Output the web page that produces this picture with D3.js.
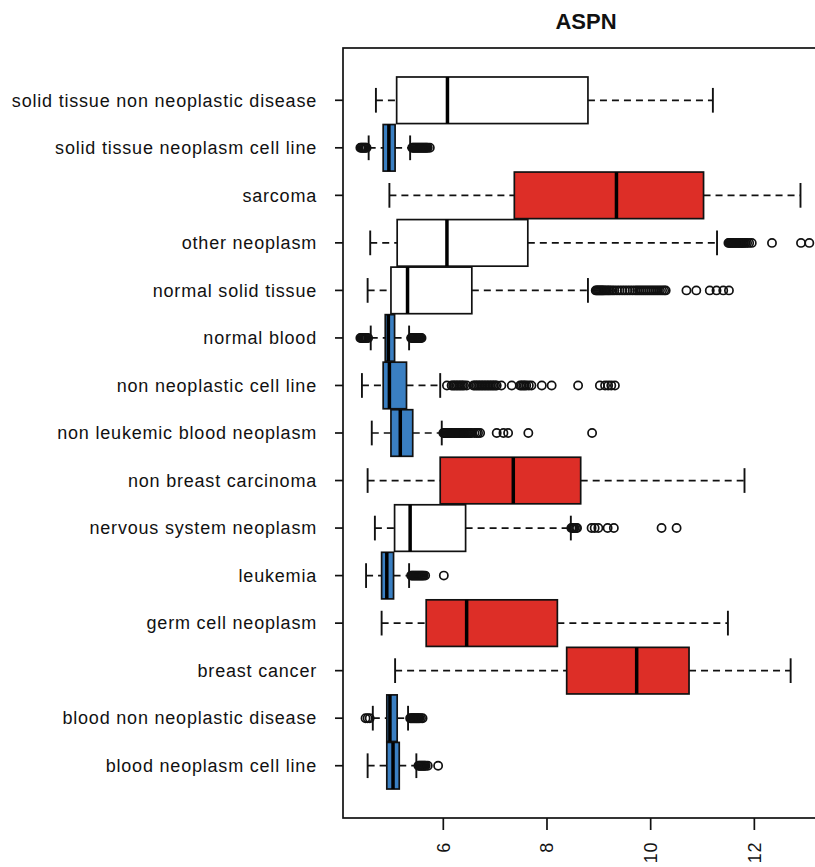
<!DOCTYPE html>
<html>
<head>
<meta charset="utf-8">
<script src="https://cdn.jsdelivr.net/npm/d3@7"></script>
<style>
  body { margin: 0; background: #fff; }
  svg { display: block; }
  text { font-family: "Liberation Sans", Arial, sans-serif; fill: #111; }
</style>
</head>
<body>
<svg id="chart" width="815" height="867"></svg>
<script>
// categories, bottom to top (R boxplot order)
const categories = [
  "blood neoplasm cell line",
  "blood non neoplastic disease",
  "breast cancer",
  "germ cell neoplasm",
  "leukemia",
  "nervous system neoplasm",
  "non breast carcinoma",
  "non leukemic blood neoplasm",
  "non neoplastic cell line",
  "normal blood",
  "normal solid tissue",
  "other neoplasm",
  "sarcoma",
  "solid tissue neoplasm cell line",
  "solid tissue non neoplastic disease"
];

// expression level group: high = red, low = blue, mid = white
const groups = ["low", "low", "high", "high", "low", "mid", "high", "low", "low", "low", "mid", "mid", "high", "low", "mid"];

const lowWhisker = [4.54, 4.64, 5.07, 4.81, 4.51, 4.68, 4.54, 4.62, 4.43, 4.60, 4.54, 4.59, 4.96, 4.56, 4.70];
const q1 =         [4.91, 4.91, 8.38, 5.67, 4.81, 5.06, 5.94, 4.99, 4.84, 4.88, 4.99, 5.11, 7.37, 4.84, 5.10];
const medians =    [5.03, 4.97, 9.73, 6.45, 4.91, 5.36, 7.35, 5.17, 4.96, 4.94, 5.31, 6.07, 9.34, 4.95, 6.08];
const q3 =         [5.15, 5.11, 10.74, 8.20, 5.04, 6.43, 8.65, 5.41, 5.29, 5.06, 6.55, 7.63, 11.02, 5.07, 8.79];
const highWhisker = [5.48, 5.32, 12.70, 11.49, 5.34, 8.46, 11.81, 5.97, 5.94, 5.34, 8.79, 11.28, 12.89, 5.36, 11.20];

const outliers = [
  [5.52, 5.54, 5.56, 5.58, 5.60, 5.62, 5.64, 5.66, 5.70, 5.90],
  [4.50, 4.54, 4.58, 5.36, 5.38, 5.40, 5.42, 5.44, 5.46, 5.48, 5.50, 5.52, 5.54, 5.57, 5.60],
  [],
  [],
  [5.38, 5.40, 5.42, 5.44, 5.46, 5.48, 5.50, 5.52, 5.54, 5.56, 5.58, 5.60, 5.62, 5.65, 6.01],
  [8.47, 8.49, 8.51, 8.53, 8.56, 8.58, 8.86, 8.92, 8.99, 9.17, 9.29, 10.21, 10.50],
  [],
  [6.00, 6.02, 6.04, 6.06, 6.08, 6.10, 6.12, 6.14, 6.16, 6.18, 6.20, 6.22, 6.24, 6.26, 6.28,
   6.30, 6.32, 6.34, 6.36, 6.38, 6.40, 6.42, 6.44, 6.46, 6.48, 6.50, 6.52, 6.55, 6.60, 6.64,
   6.67, 6.71, 7.03, 7.16, 7.25, 7.64, 8.87],
  [6.07, 6.16, 6.19, 6.22, 6.25, 6.28, 6.31, 6.34, 6.37, 6.40, 6.45, 6.58, 6.61, 6.64, 6.67,
   6.70, 6.73, 6.76, 6.79, 6.82, 6.85, 6.88, 6.91, 6.94, 6.97, 7.00, 7.03, 7.12, 7.32, 7.48,
   7.51, 7.54, 7.57, 7.60, 7.65, 7.70, 7.90, 8.09, 8.60, 9.02, 9.12, 9.18, 9.24, 9.31],
  [4.40, 4.42, 4.44, 4.46, 4.48, 4.50, 4.52, 4.55, 5.38, 5.40, 5.42, 5.44, 5.46, 5.48, 5.50,
   5.52, 5.54, 5.56, 5.58],
  [8.94, 8.96, 8.98, 9.00, 9.02, 9.04, 9.06, 9.08, 9.10, 9.13, 9.16, 9.19, 9.22, 9.26, 9.30,
   9.35, 9.40, 9.45, 9.50, 9.55, 9.60, 9.65, 9.70, 9.74, 9.78, 9.82, 9.86, 9.90, 9.94, 9.98,
   10.02, 10.06, 10.10, 10.14, 10.18, 10.22, 10.26, 10.29, 10.69, 10.88, 11.14, 11.27,
   11.40, 11.51],
  [11.50, 11.52, 11.54, 11.56, 11.58, 11.60, 11.62, 11.64, 11.66, 11.68, 11.70, 11.72, 11.74,
   11.76, 11.78, 11.80, 11.83, 11.86, 11.90, 11.95, 12.34, 12.90, 13.06],
  [],
  [4.40, 4.42, 4.44, 4.46, 4.48, 4.50, 4.52, 5.40, 5.42, 5.44, 5.46, 5.48, 5.50, 5.52, 5.54,
   5.56, 5.58, 5.60, 5.62, 5.64, 5.66, 5.68, 5.70, 5.74],
  []
];

const xTicks = [6, 8, 10, 12];
const title = "ASPN";

// layout
const frame = { left: 343, right: 829, top: 48, bottom: 818 };
const colors = { high: "#dd2e27", low: "#3a7fc2", mid: "#ffffff" };
const boxHalf = 0.49;
const stapleHalf = 0.26;

const svg = d3.select("#chart");

const x = d3.scaleLinear().domain([4.065, 13.44]).range([frame.left, frame.right]);
// R: ylim c(0.5, n + 0.5) extended by 4%
const n = categories.length;
const ext = n * 0.04;
const y = d3.scaleLinear().domain([0.5 - ext, n + 0.5 + ext]).range([frame.bottom, frame.top]);

const rows = categories.map((c, i) => ({
  name: c,
  pos: i + 1,
  group: groups[i],
  lo: lowWhisker[i],
  q1: q1[i],
  med: medians[i],
  q3: q3[i],
  hi: highWhisker[i],
  out: outliers[i]
}));

const plot = svg.append("g");

const row = plot.selectAll("g.row").data(rows).join("g").attr("class", "row");

// whiskers (dashed)
row.append("line")
  .attr("x1", d => x(d.lo)).attr("x2", d => x(d.q1))
  .attr("y1", d => y(d.pos)).attr("y2", d => y(d.pos))
  .attr("stroke", "#111").attr("stroke-width", 1.7).attr("stroke-dasharray", "7,5");
row.append("line")
  .attr("x1", d => x(d.q3)).attr("x2", d => x(d.hi))
  .attr("y1", d => y(d.pos)).attr("y2", d => y(d.pos))
  .attr("stroke", "#111").attr("stroke-width", 1.7).attr("stroke-dasharray", "7,5");

// staples
["lo", "hi"].forEach(k => {
  row.append("line")
    .attr("x1", d => x(d[k])).attr("x2", d => x(d[k]))
    .attr("y1", d => y(d.pos - stapleHalf)).attr("y2", d => y(d.pos + stapleHalf))
    .attr("stroke", "#111").attr("stroke-width", 1.9);
});

// boxes
row.append("rect")
  .attr("x", d => x(d.q1))
  .attr("width", d => x(d.q3) - x(d.q1))
  .attr("y", d => y(d.pos + boxHalf))
  .attr("height", d => y(d.pos - boxHalf) - y(d.pos + boxHalf))
  .attr("fill", d => colors[d.group])
  .attr("stroke", "#111").attr("stroke-width", 1.7);

// medians
row.append("line")
  .attr("x1", d => x(d.med)).attr("x2", d => x(d.med))
  .attr("y1", d => y(d.pos + boxHalf)).attr("y2", d => y(d.pos - boxHalf))
  .attr("stroke", "#000").attr("stroke-width", 3.5);

// outliers
row.selectAll("circle")
  .data(d => d.out.map(v => ({ v, pos: d.pos })))
  .join("circle")
  .attr("cx", d => x(d.v)).attr("cy", d => y(d.pos))
  .attr("r", 4.1)
  .attr("fill", "none").attr("stroke", "#111").attr("stroke-width", 1.7);

// frame
svg.append("rect")
  .attr("x", frame.left).attr("y", frame.top)
  .attr("width", frame.right - frame.left).attr("height", frame.bottom - frame.top)
  .attr("fill", "none").attr("stroke", "#111").attr("stroke-width", 1.7);

// y axis (categories)
const yAxis = svg.append("g");
yAxis.selectAll("line").data(rows).join("line")
  .attr("x1", frame.left - 8).attr("x2", frame.left)
  .attr("y1", d => y(d.pos)).attr("y2", d => y(d.pos))
  .attr("stroke", "#111").attr("stroke-width", 1.7);
yAxis.selectAll("text").data(rows).join("text")
  .attr("x", frame.left - 26).attr("y", d => y(d.pos))
  .attr("dy", "0.35em")
  .attr("text-anchor", "end")
  .style("font-size", "18px")
  .style("letter-spacing", "0.8px")
  .text(d => d.name);

// x axis (rotated labels, las = 2)
const xAxis = svg.append("g");
xAxis.selectAll("line").data(xTicks).join("line")
  .attr("x1", d => x(d)).attr("x2", d => x(d))
  .attr("y1", frame.bottom).attr("y2", frame.bottom + 12)
  .attr("stroke", "#111").attr("stroke-width", 1.7);
xAxis.selectAll("text").data(xTicks).join("text")
  .attr("transform", d => `translate(${x(d)},${frame.bottom + 24}) rotate(-90)`)
  .attr("dy", "0.35em")
  .attr("text-anchor", "end")
  .style("font-size", "18px")
  .style("letter-spacing", "0.6px")
  .text(d => d);

// title
svg.append("text")
  .attr("x", (frame.left + frame.right) / 2)
  .attr("y", 29)
  .attr("text-anchor", "middle")
  .style("font-size", "22px")
  .style("font-weight", "bold")
  .text(title);
</script>
</body>
</html>
